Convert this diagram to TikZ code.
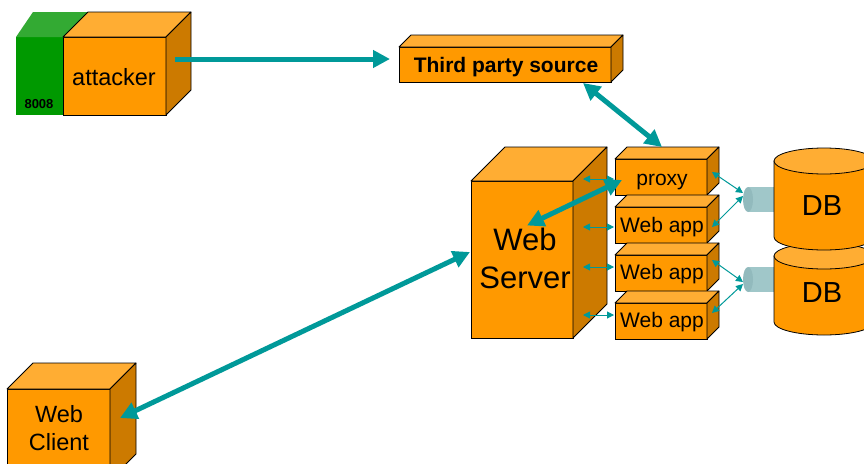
\documentclass[tikz,border=0pt]{standalone}
\usepackage{fontspec}
\setmainfont{Liberation Sans}
\usetikzlibrary{arrows.meta,calc}

\definecolor{boxfront}{RGB}{255,153,0}
\definecolor{boxtop}{RGB}{255,173,51}
\definecolor{boxside}{RGB}{204,122,0}
\definecolor{portfront}{RGB}{0,153,0}
\definecolor{porttop}{RGB}{51,170,51}
\definecolor{linkteal}{RGB}{0,153,153}
\definecolor{pipebody}{RGB}{160,199,201}
\definecolor{pipecap}{RGB}{146,186,189}

\tikzset{
  front/.style={rectangle, draw=black, line width=0.8pt, fill=boxfront,
                inner sep=0pt, outer sep=0pt},
  topface/.style={draw=black, line width=0.8pt, fill=boxtop, line join=round},
  sideface/.style={draw=black, line width=0.8pt, fill=boxside, line join=round},
  anchorbox/.style={rectangle, inner sep=0pt, outer sep=0pt},
  lbl/.style={anchor=base, inner sep=0pt, text=black},
  twoline/.style={align=center, inner sep=0pt, text=black},
  bigtip/.tip={Triangle[length=17pt,width=17pt]},
  smalltip/.tip={Triangle[length=7pt,width=7pt]},
  bigarrow/.style={draw=linkteal, line width=5pt, -bigtip},
  bigboth/.style={draw=linkteal, line width=5pt, bigtip-bigtip},
  smallboth/.style={draw=linkteal, line width=1pt, smalltip-smalltip},
  cylbody/.style={draw=black, line width=0.8pt, fill=boxfront},
  cyltop/.style={draw=black, line width=0.8pt, fill=boxtop},
}

% top and right faces of a box whose front face is the node #1
\newcommand{\cubeparts}[2]{%
  \filldraw[topface] (#1.north west) -- ++(#2,-#2)
    -- ($(#1.north east)+(#2,-#2)$) -- (#1.north east) -- cycle;
  \filldraw[sideface] (#1.north east) -- ++(#2,-#2)
    -- ($(#1.south east)+(#2,-#2)$) -- (#1.south east) -- cycle;
}

% vertical database cylinder: centre x, top y, bottom y
\newcommand{\dbcylinder}[3]{%
  \filldraw[cylbody] (#1-50,#2) -- (#1-50,#3)
    arc[start angle=180, end angle=0, x radius=50, y radius=13]
    -- (#1+50,#2) -- cycle;
  \filldraw[cyltop] (#1,#2) ellipse[x radius=50, y radius=13];
}

\begin{document}
\begin{tikzpicture}[x=1pt,y=-1pt]
\useasboundingbox (0,0) rectangle (864,463);
\clip (0,0) rectangle (864,463);

% attacker with its green port block
\fill[portfront] (16,37) rectangle (63,115);
\fill[porttop] (16,37) -- (33,12) -- (88,12) -- (63,37) -- cycle;
\node[front, minimum width=103pt, minimum height=78pt] (att) at (114.5,76) {};
\cubeparts{att}{25}
\node[lbl, font=\fontsize{23.5}{28}\selectfont] (attT) at (114,85) {attacker};
\node[lbl, font=\bfseries\fontsize{13}{15}\selectfont] (portT) at (39,108) {8008};

% third party source
\node[front, minimum width=212pt, minimum height=35pt] (tps) at (505,64.5) {};
\cubeparts{tps}{12}
\node[lbl, font=\bfseries\fontsize{21}{25}\selectfont] (tpsT) at (506,72) {Third party source};

% web server
\node[front, minimum width=102pt, minimum height=157pt] (ws) at (522,259.5) {};
\cubeparts{ws}{34}
\node[twoline, font=\fontsize{31}{38}\selectfont] (wsT) at (525,258) {Web\\Server};

% proxy and web applications
\node[front, minimum width=92pt, minimum height=36pt] (prx) at (661,177) {};
\cubeparts{prx}{12}
\node[front, minimum width=92pt, minimum height=36pt] (wa1) at (661,225) {};
\cubeparts{wa1}{12}
\node[front, minimum width=92pt, minimum height=36pt] (wa2) at (661,273) {};
\cubeparts{wa2}{12}
\node[front, minimum width=92pt, minimum height=36pt] (wa3) at (661,321) {};
\cubeparts{wa3}{12}
\node[lbl, font=\fontsize{21}{25}\selectfont] (prxT) at (662,185) {proxy};
\node[lbl, font=\fontsize{21}{25}\selectfont] (wa1T) at (662,232) {Web app};
\node[lbl, font=\fontsize{21}{25}\selectfont] (wa2T) at (662,279.5) {Web app};
\node[lbl, font=\fontsize{21}{25}\selectfont] (wa3T) at (662,327.5) {Web app};

% database connectors
\node[anchorbox, minimum width=31pt, minimum height=25pt] (p1) at (758.5,199.5) {};
\node[anchorbox, minimum width=31pt, minimum height=25pt] (p2) at (758.5,279.5) {};
\fill[pipebody] ($(p1.north west)+(5,0)$) rectangle (p1.south east);
\fill[pipecap] ($(p1.west)+(5,0)$) ellipse[x radius=5, y radius=12.5];
\fill[pipebody] ($(p2.north west)+(5,0)$) rectangle (p2.south east);
\fill[pipecap] ($(p2.west)+(5,0)$) ellipse[x radius=5, y radius=12.5];

% databases
\dbcylinder{824}{256}{322}
\dbcylinder{824}{161}{237}
\node[lbl, font=\fontsize{29}{34}\selectfont] (db1T) at (822,215) {DB};
\node[lbl, font=\fontsize{29}{34}\selectfont] (db2T) at (822,302) {DB};

% web client
\node[front, minimum width=103pt, minimum height=91pt] (wc) at (58.5,434.5) {};
\cubeparts{wc}{26}
\node[twoline, font=\fontsize{23.5}{28}\selectfont] (wcT) at (59,427.6) {Web\\Client};

% links between web server and application boxes
\draw[smallboth] ($(prx.west)+(-1,2)$) -- ($(prx.west)+(-32,2)$);
\draw[smallboth] ($(wa1.west)+(-1,2)$) -- ($(wa1.west)+(-32,2)$);
\draw[smallboth] ($(wa2.west)+(-1,-6)$) -- ($(wa2.west)+(-32,-6)$);
\draw[smallboth] ($(wa3.west)+(-1,-6)$) -- ($(wa3.west)+(-32,-6)$);

% links from application boxes to database connectors
\draw[smallboth] ($(prx.east)+(5,-5)$) -- ($(p1.west)+(0,-6.5)$);
\draw[smallboth] ($(wa1.east)+(5,2)$) -- ($(p1.west)+(0,-3.5)$);
\draw[smallboth] ($(wa2.east)+(5,-13)$) -- ($(p2.west)+(0,2.5)$);
\draw[smallboth] ($(wa3.east)+(5,-8)$) -- ($(p2.west)+(0,4.5)$);

% main flows
\coordinate (attOut) at ($(att.east)+(9,-17)$);
\draw[bigarrow, shorten >=9pt] (attOut) -- (attOut -| tps.west);
\draw[bigboth] ($(tps.south east)+(-28,1)$) -- ($(prx.north)+(1,-12)$);
\draw[bigboth] ($(ws.center)+(5,-34)$) -- ($(prx.west)+(7,3)$);
\draw[bigboth] ($(wc.east)+(10,-16.5)$) -- ($(ws.west)+(-1,-7.5)$);
\end{tikzpicture}
\end{document}
